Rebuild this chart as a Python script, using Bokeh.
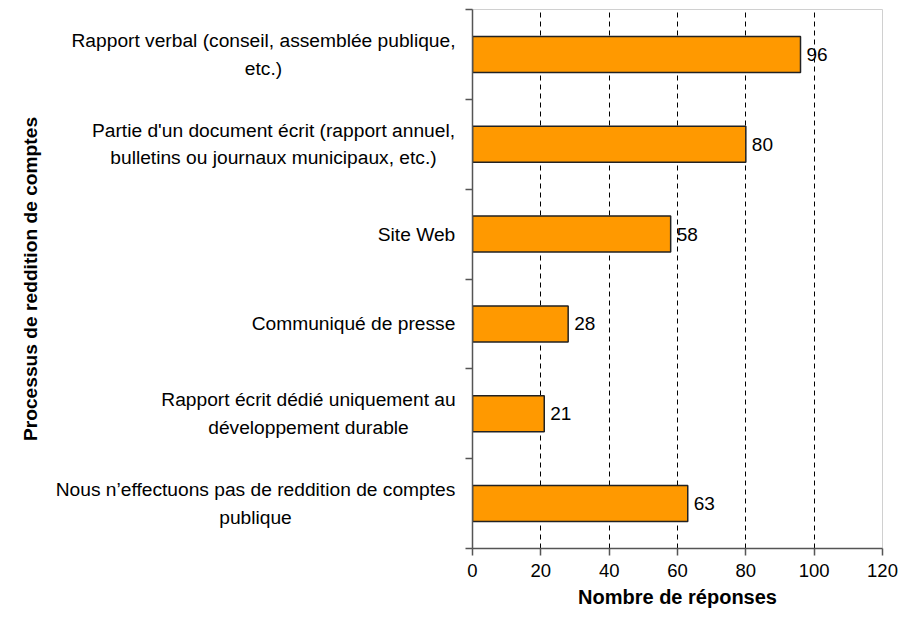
import math
from bokeh.plotting import figure
from bokeh.layouts import row
from bokeh.models import ColumnDataSource, FixedTicker, Range1d
from bokeh.core.properties import value
from bokeh.embed import file_html
from bokeh.resources import INLINE

# ---- data (top to bottom) ----
categories = [
    "Rapport verbal (conseil, assemblée publique,\netc.)",
    "Partie d'un document écrit (rapport annuel,\nbulletins ou journaux municipaux, etc.)",
    "Site Web",
    "Communiqué de presse",
    "Rapport écrit dédié uniquement au\ndéveloppement durable",
    "Nous n’effectuons pas de reddition de comptes\npublique",
]
counts = [96, 80, 58, 28, 21, 63]
x_ticks = [0, 20, 40, 60, 80, 100, 120]
x_title = "Nombre de réponses"
y_title = "Processus de reddition de comptes"

# ---- layout (pixels) ----
FONT = "Liberation Sans"
H = 610
TOP, BOTTOM = 9, 62
LEFT_W = 464                      # width of the label panel
# centre of each category text block in the label panel (blocks end ~17px left of the axis)
label_center_px = [263, 273, 416, 353, 308, 255]
y_title_px = 30

n = len(categories)
ys = [n - i - 0.5 for i in range(n)]

src = ColumnDataSource(dict(
    y=ys,
    count=counts,
    txt=[str(c) for c in counts],
    cat=categories,
    lx=label_center_px,
))

# ---------- left panel: category labels + y title ----------
lp = figure(width=LEFT_W, height=H,
            x_range=Range1d(0, LEFT_W), y_range=Range1d(0, n),
            x_axis_location=None, y_axis_location=None,
            output_backend="svg", toolbar_location=None,
            min_border_left=0, min_border_right=0,
            min_border_top=TOP, min_border_bottom=BOTTOM)
lp.outline_line_color = None
lp.grid.visible = False
lp.background_fill_color = "white"
lp.border_fill_color = "white"

lp.text(x="lx", y="y", text="cat", source=src,
        text_align="center", text_baseline="middle",
        text_font=value(FONT), text_font_size="19.2px",
        text_color="black", text_line_height=1.31)

lp.text(x=[y_title_px], y=[n / 2], text=[y_title], angle=math.pi / 2,
        text_align="center", text_baseline="middle",
        text_font=value(FONT), text_font_size="19.2px", text_font_style="bold",
        text_color="black")

# ---------- right panel: the bars ----------
p = figure(width=898 - LEFT_W, height=H,
           x_range=Range1d(0, 120), y_range=Range1d(0, n),
           output_backend="svg", toolbar_location=None,
           min_border_left=8, min_border_right=16,
           min_border_top=TOP, min_border_bottom=BOTTOM)

p.background_fill_color = "white"
p.border_fill_color = "white"
p.outline_line_color = "#d0d0d0"
p.outline_line_width = 1

p.hbar(y="y", left=0, right="count", height=0.4, source=src,
       fill_color="#FF9900", line_color="#222222", line_width=1.5)

p.text(x="count", y="y", text="txt", source=src, x_offset=6,
       text_baseline="middle", text_align="left",
       text_font=value(FONT), text_font_size="19px", text_color="black")

# grid
p.ygrid.grid_line_color = None
p.xgrid.ticker = FixedTicker(ticks=x_ticks[1:-1])
p.xgrid.grid_line_color = "black"
p.xgrid.grid_line_dash = "5 4"
p.xgrid.grid_line_width = 1

# x axis
xa = p.xaxis[0]
xa.ticker = FixedTicker(ticks=x_ticks, minor_ticks=[])
xa.axis_line_color = "#555555"
xa.axis_line_width = 1.5
xa.major_tick_line_color = "#555555"
xa.major_tick_line_width = 1.5
xa.major_tick_out = 7
xa.major_tick_in = 0
xa.minor_tick_line_color = None
xa.major_label_text_font = FONT
xa.major_label_text_font_size = "18.5px"
xa.major_label_text_color = "black"
xa.major_label_standoff = 8
xa.axis_label = x_title
xa.axis_label_text_font = FONT
xa.axis_label_text_font_size = "20px"
xa.axis_label_text_font_style = "bold"
xa.axis_label_text_color = "black"
xa.axis_label_standoff = 6

# y axis: ticks between categories only, no labels
ya = p.yaxis[0]
ya.ticker = FixedTicker(ticks=[], minor_ticks=list(range(n + 1)))
ya.axis_line_color = "#555555"
ya.axis_line_width = 1.5
ya.major_tick_line_color = None
ya.minor_tick_line_color = "#555555"
ya.minor_tick_line_width = 1.5
ya.minor_tick_out = 7
ya.minor_tick_in = 0
ya.major_label_text_font_size = "0px"
ya.major_label_standoff = 0
ya.axis_label_standoff = 0

layout = row(lp, p, spacing=0)
open("out.html", "w").write(file_html(layout, INLINE))
